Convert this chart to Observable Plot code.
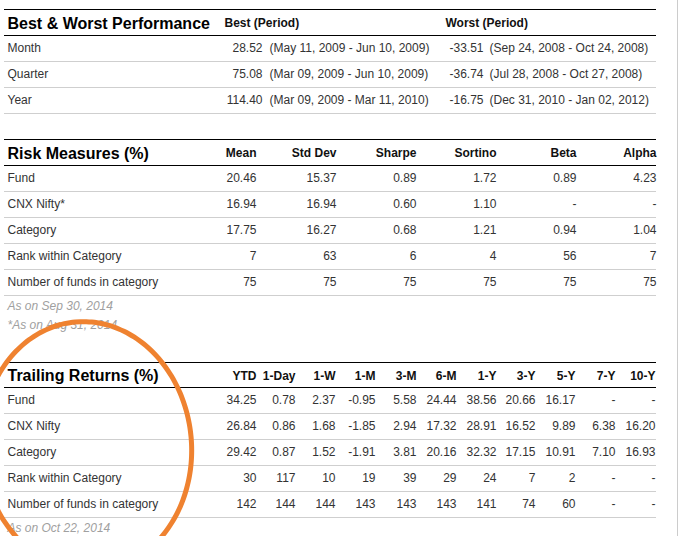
<!DOCTYPE html>
<html>
<head>
<meta charset="utf-8">
<script src="https://cdn.jsdelivr.net/npm/d3@7"></script>
<script src="https://cdn.jsdelivr.net/npm/@observablehq/plot@0.6"></script>
<style>
  html, body { margin: 0; padding: 0; background: #fff; }
  #chart svg { display: block; }
</style>
</head>
<body>
<div id="chart"></div>
<script>
// ---------- DATA ----------
const bwTitle = "Best & Worst Performance";
const bwHeaders = ["Best (Period)", "Worst (Period)"];
const bwRows = ["Month", "Quarter", "Year"];
const bestValues = ["28.52", "75.08", "114.40"];
const bestPeriods = ["(May 11, 2009 - Jun 10, 2009)", "(Mar 09, 2009 - Jun 10, 2009)", "(Mar 09, 2009 - Mar 11, 2010)"];
const worstValues = ["-33.51", "-36.74", "-16.75"];
const worstPeriods = ["(Sep 24, 2008 - Oct 24, 2008)", "(Jul 28, 2008 - Oct 27, 2008)", "(Dec 31, 2010 - Jan 02, 2012)"];

const riskTitle = "Risk Measures (%)";
const riskCols = ["Mean", "Std Dev", "Sharpe", "Sortino", "Beta", "Alpha"];
const riskRows = ["Fund", "CNX Nifty*", "Category", "Rank within Category", "Number of funds in category"];
const riskFund = ["20.46", "15.37", "0.89", "1.72", "0.89", "4.23"];
const riskNifty = ["16.94", "16.94", "0.60", "1.10", "-", "-"];
const riskCategory = ["17.75", "16.27", "0.68", "1.21", "0.94", "1.04"];
const riskRank = ["7", "63", "6", "4", "56", "7"];
const riskCount = ["75", "75", "75", "75", "75", "75"];
const riskNotes = ["As on Sep 30, 2014", "*As on Aug 31, 2014"];

const trailTitle = "Trailing Returns (%)";
const trailCols = ["YTD", "1-Day", "1-W", "1-M", "3-M", "6-M", "1-Y", "3-Y", "5-Y", "7-Y", "10-Y"];
const trailRows = ["Fund", "CNX Nifty", "Category", "Rank within Category", "Number of funds in category"];
const trailFund = ["34.25", "0.78", "2.37", "-0.95", "5.58", "24.44", "38.56", "20.66", "16.17", "-", "-"];
const trailNifty = ["26.84", "0.86", "1.68", "-1.85", "2.94", "17.32", "28.91", "16.52", "9.89", "6.38", "16.20"];
const trailCategory = ["29.42", "0.87", "1.52", "-1.91", "3.81", "20.16", "32.32", "17.15", "10.91", "7.10", "16.93"];
const trailRank = ["30", "117", "10", "19", "39", "29", "24", "7", "2", "-", "-"];
const trailCount = ["142", "144", "144", "143", "143", "143", "141", "74", "60", "-", "-"];
const trailNotes = ["As on Oct 22, 2014"];

// ---------- LAYOUT (pixel space of the page) ----------
const W = 687, H = 536;
const L = {
  left: 4, right: 656, textX: 7, rowH: 26,
  sec: [
    {top: 9, headBottom: 35},
    {top: 139, headBottom: 165},
    {top: 362, headBottom: 387}
  ],
  bestValX: 262, bestPerX: 269, worstValX: 483, worstPerX: 489,
  bestHeadX: 224, worstHeadX: 445,
  riskColX: [256, 336, 416, 496, 576, 656],
  trailColX: [256, 295, 335, 375, 416, 456, 496, 535, 575, 615, 655],
  border: 677
};

const font = "'Liberation Sans', Arial, Helvetica, sans-serif";
const txt = "#333";

// build tables
const titles = [];
const headers = [];
const cells = [];
const hLines = [];
const notes = [];

function section(i, title, rowLabels, rowsData, headerItems) {
  const s = L.sec[i];
  titles.push({x: L.textX, y: (s.top + s.headBottom) / 2 + 1, text: title});
  hLines.push({y: s.top, c: "#000"}, {y: s.headBottom, c: "#000"});
  headerItems.forEach(h => headers.push({...h, y: (s.top + s.headBottom) / 2 + 1}));
  rowLabels.forEach((r, j) => {
    const yc = s.headBottom + L.rowH * j + L.rowH / 2;
    cells.push({x: L.textX, y: yc, text: r, anchor: "start"});
    hLines.push({y: s.headBottom + L.rowH * (j + 1), c: "#cfcfcf"});
    rowsData[j].forEach(c => cells.push({...c, y: yc}));
  });
  return s.headBottom + L.rowH * rowLabels.length;
}

section(0, bwTitle, bwRows,
  bwRows.map((_, j) => [
    {x: L.bestValX, text: bestValues[j], anchor: "end"},
    {x: L.bestPerX, text: bestPeriods[j], anchor: "start"},
    {x: L.worstValX, text: worstValues[j], anchor: "end"},
    {x: L.worstPerX, text: worstPeriods[j], anchor: "start"}
  ]),
  [{x: L.bestHeadX, text: bwHeaders[0], anchor: "start"}, {x: L.worstHeadX, text: bwHeaders[1], anchor: "start"}]
);

const riskData = [riskFund, riskNifty, riskCategory, riskRank, riskCount];
const riskEnd = section(1, riskTitle, riskRows,
  riskData.map(row => row.map((v, k) => ({x: L.riskColX[k], text: v, anchor: "end"}))),
  riskCols.map((c, k) => ({x: L.riskColX[k], text: c, anchor: "end"}))
);
riskNotes.forEach((n, k) => notes.push({x: L.textX, y: riskEnd + 11 + 19 * k, text: n}));

const trailData = [trailFund, trailNifty, trailCategory, trailRank, trailCount];
const trailEnd = section(2, trailTitle, trailRows,
  trailData.map(row => row.map((v, k) => ({x: L.trailColX[k], text: v, anchor: "end"}))),
  trailCols.map((c, k) => ({x: L.trailColX[k], text: c, anchor: "end"}))
);
trailNotes.forEach((n, k) => notes.push({x: L.textX, y: trailEnd + 11 + 19 * k, text: n}));

// hand-drawn annotation ellipse (decoration)
const ell = {cx: 86, cy: 446, rx: 105, ry: 125, rot: -0.09};
const ellPts = d3.range(0, 2 * Math.PI + 0.001, Math.PI / 60).map(t => {
  const x0 = ell.rx * Math.cos(t), y0 = ell.ry * Math.sin(t);
  return {x: ell.cx + x0 * Math.cos(ell.rot) - y0 * Math.sin(ell.rot),
          y: ell.cy + x0 * Math.sin(ell.rot) + y0 * Math.cos(ell.rot)};
});

const anchorGroups = ["start", "end"];

const chart = Plot.plot({
  width: W, height: H,
  margin: 0,
  x: {domain: [0, W], range: [0, W], axis: null},
  y: {domain: [0, H], range: [0, H], axis: null},
  style: {background: "#fff", fontFamily: font, overflow: "hidden"},
  marks: [
    Plot.ruleX([L.border], {y1: 0, y2: H, stroke: "#cccccc", strokeWidth: 1}),
    Plot.ruleY(hLines, {y: "y", x1: L.left, x2: L.right, stroke: "c", strokeWidth: 1}),
    Plot.text(titles, {x: "x", y: "y", text: "text", textAnchor: "start", fontSize: 16, fontWeight: "bold", fill: "#000"}),
    ...anchorGroups.map(a => Plot.text(headers.filter(d => d.anchor === a), {x: "x", y: "y", text: "text", textAnchor: a, fontSize: 12, fontWeight: "bold", fill: "#111"})),
    ...anchorGroups.map(a => Plot.text(cells.filter(d => d.anchor === a), {x: "x", y: "y", text: "text", textAnchor: a, fontSize: 12, fill: txt})),
    Plot.text(notes, {x: "x", y: "y", text: "text", textAnchor: "start", fontSize: 12, fontStyle: "italic", fill: "#a0a0a0"}),
    Plot.line(ellPts, {x: "x", y: "y", stroke: "#ef8230", strokeWidth: 5, curve: "catmull-rom"})
  ]
});
document.getElementById("chart").appendChild(chart);
</script>
</body>
</html>
